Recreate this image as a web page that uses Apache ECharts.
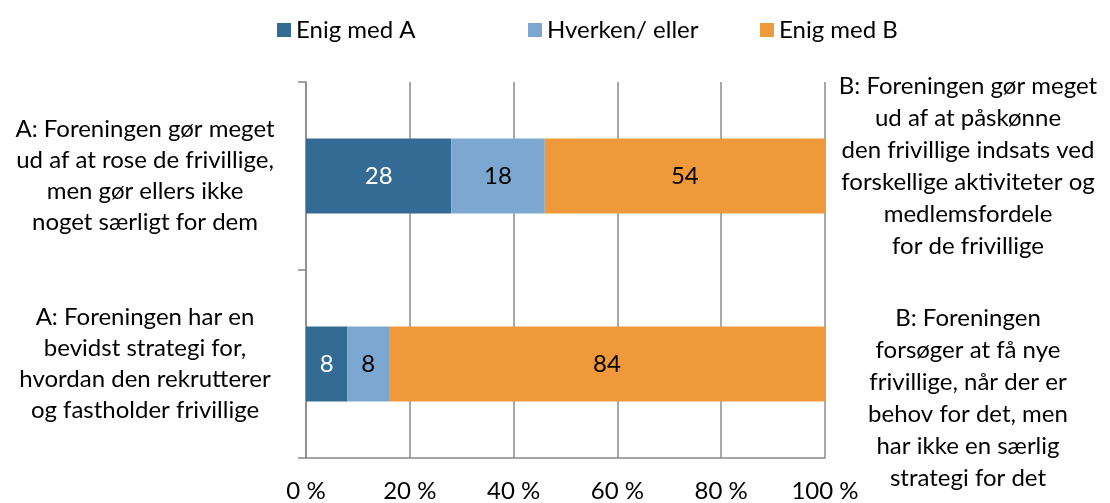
<!DOCTYPE html>
<html>
<head>
<meta charset="utf-8">
<script src="https://cdn.jsdelivr.net/npm/echarts@6/dist/echarts.min.js"></script>
<style>
  html, body { margin: 0; padding: 0; background: #fff; }
  #chart { width: 1110px; height: 503px; }
</style>
</head>
<body>
<div id="chart"></div>
<script>
var leftLabels = [
  'A: Foreningen gør meget\nud af at rose de frivillige,\nmen gør ellers ikke\nnoget særligt for dem',
  'A: Foreningen har en\nbevidst strategi for,\nhvordan den rekrutterer\nog fastholder frivillige'
]
var rightLabels = [
  'B: Foreningen gør meget\nud af at påskønne\nden frivillige indsats ved\nforskellige aktiviteter og\nmedlemsfordele\nfor de frivillige',
  'B: Foreningen\nforsøger at få nye\nfrivillige, når der er\nbehov for det, men\nhar ikke en særlig\nstrategi for det'
]
var seriesNames = ['Enig med A', 'Hverken/ eller', 'Enig med B']
var enigA = [28, 8]
var hverken = [18, 8]
var enigB = [54, 84]
var xTicks = [0, 20, 40, 60, 80, 100]

var colors = ['#346B94', '#7BA7D1', '#F0993A']
var labelColors = ['#fff', '#000', '#000']
var font = 'Lato'
var fs = 24

var chart = echarts.init(document.getElementById('chart'))

function legendItem(name, left) {
  return {
    data: [name],
    left: left,
    top: 13,
    itemWidth: 14,
    itemHeight: 14,
    itemGap: 0,
    icon: 'rect',
    textStyle: { fontFamily: font, fontSize: fs, color: '#000' }
  }
}

var values = [enigA, hverken, enigB]

chart.setOption({
  animation: false,
  color: colors,
  legend: [
    legendItem(seriesNames[0], 272),
    legendItem(seriesNames[1], 523),
    legendItem(seriesNames[2], 755)
  ],
  grid: { left: 306, right: 285, top: 82, bottom: 45 },
  xAxis: {
    type: 'value',
    min: xTicks[0],
    max: xTicks[xTicks.length - 1],
    interval: 20,
    axisLine: { show: true, lineStyle: { color: '#888', width: 1.5 } },
    axisTick: { show: false },
    splitLine: { show: true, lineStyle: { color: '#8c8c8c', width: 1.5 } },
    axisLabel: {
      formatter: '{value} %',
      fontFamily: font,
      fontSize: fs,
      color: '#000',
      margin: 21
    }
  },
  yAxis: [
    {
      type: 'category',
      inverse: true,
      data: leftLabels,
      axisLine: { show: true, lineStyle: { color: '#888', width: 1.5 } },
      axisTick: { show: true, length: 8, lineStyle: { color: '#888', width: 1.5 } },
      axisLabel: {
        interval: 0,
        align: 'center',
        margin: 161,
        fontFamily: font,
        fontSize: fs,
        lineHeight: 31,
        color: '#000'
      }
    },
    {
      type: 'category',
      inverse: true,
      position: 'right',
      data: rightLabels,
      axisLine: { show: false },
      axisTick: { show: false },
      axisLabel: {
        interval: 0,
        hideOverlap: false,
        align: 'center',
        margin: 143,
        fontFamily: font,
        fontSize: fs,
        lineHeight: 32,
        color: '#000',
        // nudge blocks to where they sit in the original
        formatter: function (v, i) {
          return i === 0 ? v + '\n{gapA| }' : '{gapB| }\n' + v
        },
        rich: {
          gapA: { lineHeight: 20, fontSize: 2 },
          gapB: { lineHeight: 68, fontSize: 2 }
        }
      }
    }
  ],
  series: seriesNames.map(function (name, k) {
    return {
      name: name,
      type: 'bar',
      stack: 'total',
      yAxisIndex: 0,
      barCategoryGap: '60%',
      data: values[k],
      label: {
        show: true,
        position: 'inside',
        fontFamily: font,
        fontSize: fs,
        color: labelColors[k]
      }
    }
  })
})
</script>
</body>
</html>
